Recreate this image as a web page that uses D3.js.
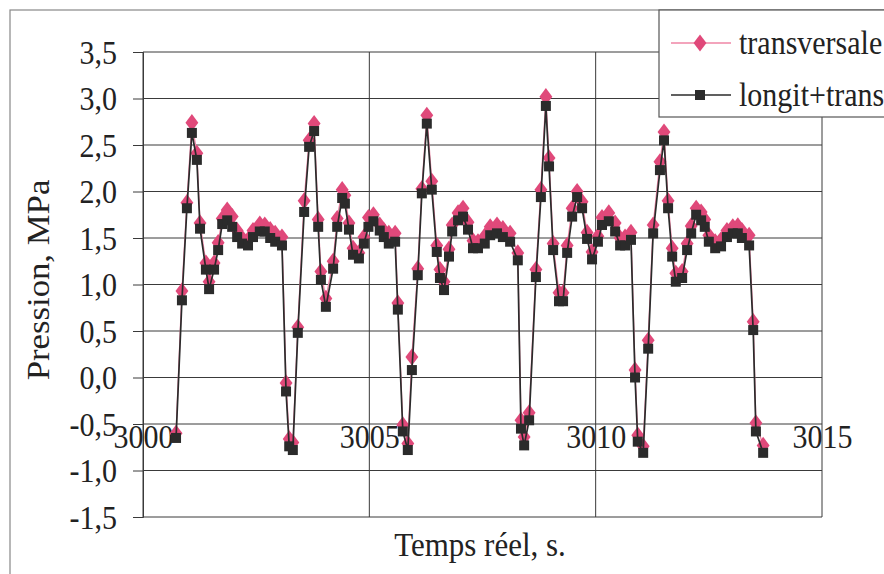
<!DOCTYPE html>
<html><head><meta charset="utf-8">
<script src="https://cdn.jsdelivr.net/npm/d3@7"></script>
<style>
html,body{margin:0;padding:0;background:#fff;}
svg{display:block;}
text{font-family:"Liberation Serif","Times New Roman",serif;fill:#222;}
</style></head>
<body>
<svg id="chart" width="884" height="574"></svg>
<script>
const times = [3000.73,3000.86,3000.97,3001.08,3001.19,3001.26,3001.39,3001.46,3001.57,3001.66,
3001.75,3001.86,3001.97,3002.08,3002.19,3002.32,3002.43,3002.58,3002.69,3002.81,
3002.92,3003.07,3003.16,3003.23,3003.31,3003.42,3003.56,3003.67,3003.78,3003.87,
3003.93,3004.04,3004.20,3004.29,3004.40,3004.46,3004.55,3004.64,3004.77,3004.88,
3004.98,3005.09,3005.23,3005.32,3005.43,3005.57,3005.63,3005.74,3005.85,3005.94,
3006.07,3006.16,3006.27,3006.38,3006.49,3006.56,3006.65,3006.76,3006.83,3006.96,
3007.07,3007.18,3007.29,3007.40,3007.55,3007.67,3007.82,3007.95,3008.11,3008.28,
3008.35,3008.42,3008.53,3008.68,3008.79,3008.90,3008.97,3009.06,3009.19,3009.28,
3009.37,3009.48,3009.59,3009.70,3009.81,3009.92,3010.05,3010.14,3010.29,3010.43,
3010.54,3010.65,3010.78,3010.87,3010.93,3011.05,3011.16,3011.27,3011.42,3011.51,
3011.60,3011.69,3011.77,3011.91,3012.02,3012.11,3012.22,3012.33,3012.41,3012.50,
3012.64,3012.77,3012.90,3013.03,3013.14,3013.23,3013.39,3013.48,3013.54,3013.70];

const transversale = [-0.60,0.93,1.88,2.74,2.41,1.66,1.23,1.03,1.23,1.45,
1.71,1.80,1.73,1.58,1.50,1.48,1.58,1.65,1.64,1.59,
1.55,1.51,-0.06,-0.66,-0.70,0.54,1.90,2.55,2.73,1.70,
1.14,0.85,1.25,1.71,2.02,1.96,1.66,1.39,1.34,1.51,
1.72,1.75,1.64,1.58,1.55,1.55,0.80,-0.51,-0.71,0.22,
1.17,2.03,2.82,2.11,1.42,1.16,1.03,1.38,1.64,1.77,
1.82,1.67,1.47,1.46,1.52,1.62,1.64,1.60,1.55,1.34,
-0.46,-0.64,-0.38,1.16,2.02,3.02,2.36,1.44,0.91,0.91,
1.42,1.82,2.00,1.89,1.56,1.35,1.52,1.72,1.77,1.66,
1.50,1.51,1.56,0.08,-0.62,-0.74,0.40,1.64,2.32,2.64,
1.90,1.39,1.12,1.14,1.44,1.63,1.82,1.78,1.70,1.53,
1.46,1.48,1.58,1.62,1.63,1.58,1.53,0.60,-0.49,-0.73];

const longitTrans = [-0.65,0.83,1.82,2.63,2.34,1.60,1.16,0.95,1.16,1.37,
1.65,1.69,1.62,1.51,1.44,1.42,1.51,1.57,1.57,1.50,
1.46,1.42,-0.15,-0.74,-0.78,0.48,1.78,2.48,2.65,1.62,
1.05,0.76,1.17,1.62,1.93,1.87,1.59,1.32,1.28,1.44,
1.62,1.68,1.58,1.51,1.44,1.46,0.73,-0.58,-0.78,0.08,
1.10,1.98,2.73,2.02,1.35,1.07,0.94,1.30,1.57,1.69,
1.73,1.59,1.39,1.39,1.44,1.53,1.55,1.51,1.46,1.26,
-0.55,-0.73,-0.46,1.08,1.94,2.92,2.27,1.37,0.82,0.82,
1.34,1.73,1.94,1.82,1.49,1.27,1.46,1.64,1.68,1.57,
1.42,1.42,1.48,0.00,-0.69,-0.81,0.31,1.55,2.23,2.55,
1.82,1.30,1.03,1.07,1.37,1.55,1.75,1.69,1.62,1.46,
1.39,1.41,1.51,1.55,1.55,1.50,1.42,0.51,-0.58,-0.81];

const yTicks = [-1.5,-1.0,-0.5,0.0,0.5,1.0,1.5,2.0,2.5,3.0,3.5];
const xTicks = [3000,3005,3010,3015];
const seriesNames = ["transversale","longit+trans"];
const yTitle = "Pression, MPa";
const xTitle = "Temps réel, s.";

const pink = "#e0497a", pinkLine = "#ef86a6", dark = "#2b2b2b", grid = "#3a3a3a";
const FS = 30, SY = 1.12;

const svg = d3.select("#chart");
const x = d3.scaleLinear().domain([3000,3015]).range([143,822]);
const y = d3.scaleLinear().domain([-1.5,3.5]).range([517,52]);
const fmt = v => d3.format(".1f")(v).replace(".",",").replace("−","-");

// outer chart border
svg.append("rect").attr("x",10).attr("y",10).attr("width",900).attr("height",600)
  .attr("fill","#fff").attr("stroke","#888").attr("stroke-width",1.2);

// horizontal gridlines
svg.append("g").selectAll("line").data(yTicks).join("line")
  .attr("x1",x(3000)).attr("x2",x(3015))
  .attr("y1",d=>y(d)).attr("y2",d=>y(d))
  .attr("stroke",grid).attr("stroke-width",1);
// vertical gridlines
svg.append("g").selectAll("line").data(xTicks).join("line")
  .attr("x1",d=>x(d)).attr("x2",d=>x(d))
  .attr("y1",y(3.5)).attr("y2",y(-1.5))
  .attr("stroke",grid).attr("stroke-width",1);

// y axis with ticks
const yAxis = svg.append("g").attr("transform",`translate(${x(3000)},0)`)
  .call(d3.axisLeft(y).tickValues(yTicks).tickSize(10).tickPadding(16).tickFormat(fmt));
yAxis.select(".domain").attr("stroke",grid);
yAxis.selectAll(".tick line").attr("stroke",grid);
yAxis.selectAll(".tick text").attr("font-size",FS).attr("fill","#222")
  .attr("font-family","Liberation Serif, serif")
  .attr("dy",null).attr("y",0).attr("dominant-baseline","central")
  .attr("transform",`scale(1,${SY})`);

// x axis labels positioned at -0.5 level
const xAxis = svg.append("g").attr("transform",`translate(0,${y(-0.5)})`)
  .call(d3.axisBottom(x).tickValues(xTicks).tickSize(0).tickPadding(0).tickFormat(d3.format("d")));
xAxis.select(".domain").remove();
xAxis.selectAll(".tick text").attr("font-size",FS).attr("fill","#222")
  .attr("font-family","Liberation Serif, serif")
  .attr("dy",null).attr("y",0).attr("dominant-baseline","central")
  .attr("transform",`translate(0,13) scale(1,${SY})`);

// series
const dataT = times.map((t,i)=>({t,v:transversale[i]}));
const dataL = times.map((t,i)=>({t,v:longitTrans[i]}));
const line = d3.line().x(d=>x(d.t)).y(d=>y(d.v));

svg.append("path").datum(dataT).attr("d",line).attr("fill","none")
  .attr("stroke",pinkLine).attr("stroke-width",1.3);
const diamond = d3.symbol().type(d3.symbolDiamond).size(85);
svg.append("g").selectAll("path").data(dataT).join("path")
  .attr("d",diamond).attr("transform",d=>`translate(${x(d.t)},${y(d.v)}) scale(1.3,1)`)
  .attr("fill",pink);

svg.append("path").datum(dataL).attr("d",line).attr("fill","none")
  .attr("stroke",dark).attr("stroke-width",1.7);
svg.append("g").selectAll("rect").data(dataL).join("rect")
  .attr("x",d=>x(d.t)-5).attr("y",d=>y(d.v)-5).attr("width",10).attr("height",10)
  .attr("fill",dark);

// titles
svg.append("text").attr("transform",`translate(${480},${556}) scale(1,${SY})`)
  .attr("text-anchor","middle").attr("font-size",FS+1).text(xTitle);
svg.append("text").attr("transform",`translate(${49},${280}) rotate(-90) scale(${SY},1)`)
  .attr("text-anchor","middle").attr("font-size",FS+1).text(yTitle);

// legend
const lg = svg.append("g");
lg.append("rect").attr("x",659).attr("y",10).attr("width",260).attr("height",107)
  .attr("fill","#fff").attr("stroke","#555").attr("stroke-width",1.2);
const legendRows = [
  {name:seriesNames[0], y:43, col:pinkLine, mk:"d"},
  {name:seriesNames[1], y:95, col:dark, mk:"s"}
];
legendRows.forEach(r=>{
  lg.append("line").attr("x1",671).attr("x2",731).attr("y1",r.y).attr("y2",r.y)
    .attr("stroke",r.col).attr("stroke-width",1.6);
  if(r.mk==="d"){
    lg.append("path").attr("d",diamond).attr("transform",`translate(700,${r.y}) scale(1.3,1)`).attr("fill",pink);
  } else {
    lg.append("rect").attr("x",695).attr("y",r.y-5).attr("width",10).attr("height",10).attr("fill",dark);
  }
  lg.append("text").attr("transform",`translate(739,${r.y}) scale(1,${SY})`)
    .attr("dominant-baseline","central").attr("font-size",FS).text(r.name);
});
</script>
</body></html>
